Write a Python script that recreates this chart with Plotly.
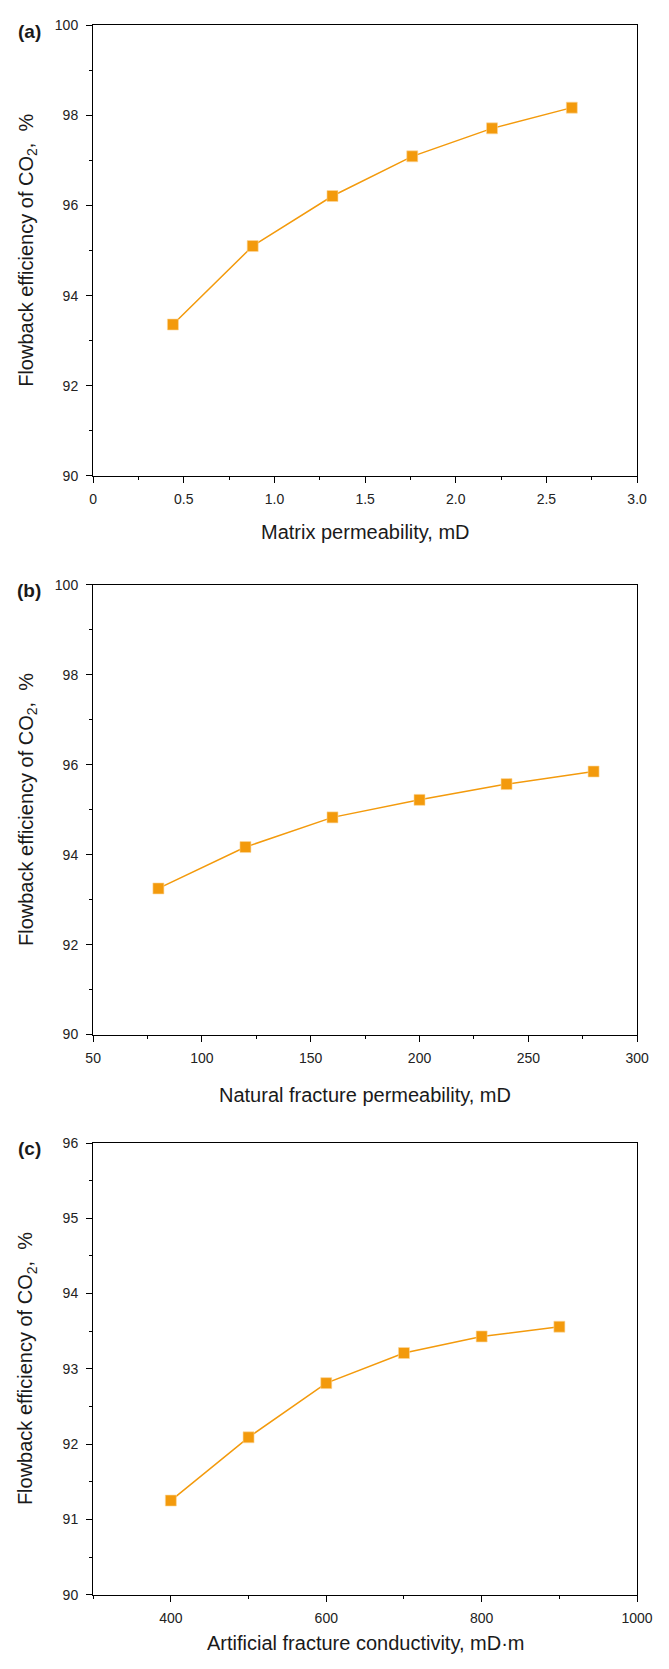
import plotly.graph_objects as go

# ---------------- data ----------------
matrix_perm = [0.44, 0.88, 1.32, 1.76, 2.20, 2.64]
eff_a = [93.36, 95.10, 96.21, 97.09, 97.71, 98.17]

nat_frac_perm = [80, 120, 160, 200, 240, 280]
eff_b = [93.25, 94.17, 94.83, 95.22, 95.57, 95.85]

art_frac_cond = [400, 500, 600, 700, 800, 900]
eff_c = [91.25, 92.09, 92.81, 93.21, 93.43, 93.56]

xa_ticks = [0, 0.5, 1.0, 1.5, 2.0, 2.5, 3.0]
xa_text = ["0", "0.5", "1.0", "1.5", "2.0", "2.5", "3.0"]
xa_minor = [0.25, 0.75, 1.25, 1.75, 2.25, 2.75]

xb_ticks = [50, 100, 150, 200, 250, 300]
xb_text = ["50", "100", "150", "200", "250", "300"]
xb_minor = [75, 125, 175, 225, 275]

xc_ticks = [400, 600, 800, 1000]
xc_text = ["400", "600", "800", "1000"]
xc_minor = [300, 500, 700, 900]

yab_ticks = [90, 92, 94, 96, 98, 100]
yab_text = ["90", "92", "94", "96", "98", "100"]
yab_minor = [91, 93, 95, 97, 99]

yc_ticks = [90, 91, 92, 93, 94, 95, 96]
yc_text = ["90", "91", "92", "93", "94", "95", "96"]
yc_minor = [90.5, 91.5, 92.5, 93.5, 94.5, 95.5]

panel_labels = ["(a)", "(b)", "(c)"]
x_titles = ["Matrix permeability, mD", "Natural fracture permeability, mD",
            "Artificial fracture conductivity, mD·m"]
y_title = "Flowback efficiency of CO<sub>2</sub>,  %"

# ---------------- layout geometry (pixels) ----------------
W, H = 669, 1669
LEFT, RIGHT = 88.3, 652.5
panels = [  # top, bottom, x-title center y
    (17.3, 472.5, 529),
    (582.5, 1036.5, 1098),
    (1146.0, 1602.0, 1651),
]

ORANGE = "#F39A0C"
FONT = "Liberation Sans, Arial, sans-serif"
TEXT_COLOR = "#1a1a1a"

def py(v):
    return 1 - v / H

def px(v):
    return v / W

fig = go.Figure()

series = [
    (matrix_perm, eff_a, [0, 3.0], xa_ticks, xa_text, xa_minor, [90, 100], yab_ticks, yab_text, yab_minor),
    (nat_frac_perm, eff_b, [50, 300], xb_ticks, xb_text, xb_minor, [90, 100], yab_ticks, yab_text, yab_minor),
    (art_frac_cond, eff_c, [300, 1000], xc_ticks, xc_text, xc_minor, [90, 96], yc_ticks, yc_text, yc_minor),
]

annotations = []
for i, (xs, ys, xr, xt, xtt, xm, yr, yt, ytt, ym) in enumerate(series):
    n = "" if i == 0 else str(i + 1)
    top, bottom, xtitle_y = panels[i]
    fig.add_trace(go.Scatter(
        x=xs, y=ys, mode="lines+markers",
        line=dict(color=ORANGE, width=1.5),
        marker=dict(symbol="square", size=11, color=ORANGE,
                    line=dict(color="#FBD8A0", width=0.6)),
        xaxis="x" + n, yaxis="y" + n, showlegend=False,
    ))
    axis_common = dict(
        showline=True, linecolor="black", linewidth=1.3, mirror=True,
        ticks="outside", ticklen=6, tickwidth=1.2, tickcolor="black",
        showgrid=False, zeroline=False,
        tickfont=dict(family=FONT, size=14, color="#222222"),
    )
    fig.layout["xaxis" + n] = dict(
        domain=[px(LEFT), px(RIGHT)], range=xr, anchor="y" + n,
        tickmode="array", tickvals=xt, ticktext=xtt,
        minor=dict(tickmode="array", tickvals=xm, ticks="outside", ticklen=3,
                   tickwidth=1, tickcolor="black"),
        ticklabelstandoff=4,
        **axis_common,
    )
    fig.layout["yaxis" + n] = dict(
        domain=[py(bottom), py(top)], range=yr, anchor="x" + n,
        tickmode="array", tickvals=yt, ticktext=ytt,
        minor=dict(tickmode="array", tickvals=ym, ticks="outside", ticklen=3,
                   tickwidth=1, tickcolor="black"),
        ticklabelstandoff=5,
        **axis_common,
    )
    annotations.append(dict(
        text=x_titles[i], x=px((LEFT + RIGHT) / 2), y=py(xtitle_y),
        xref="paper", yref="paper", xanchor="center", yanchor="middle",
        showarrow=False, font=dict(family=FONT, size=20, color=TEXT_COLOR),
    ))
    annotations.append(dict(
        text=y_title, x=px(20), y=py((top + bottom) / 2), textangle=-90,
        xref="paper", yref="paper", xanchor="center", yanchor="middle",
        showarrow=False, font=dict(family=FONT, size=20, color=TEXT_COLOR),
    ))
    annotations.append(dict(
        text="<b>" + panel_labels[i] + "</b>", x=px(22), y=py(top + 6),
        xref="paper", yref="paper", xanchor="center", yanchor="middle",
        showarrow=False, font=dict(family=FONT, size=19, color=TEXT_COLOR),
    ))

fig.update_layout(
    width=W, height=H,
    margin=dict(l=0, r=0, t=0, b=0),
    paper_bgcolor="white", plot_bgcolor="white",
    annotations=annotations,
)

fig.write_html("out.html")
